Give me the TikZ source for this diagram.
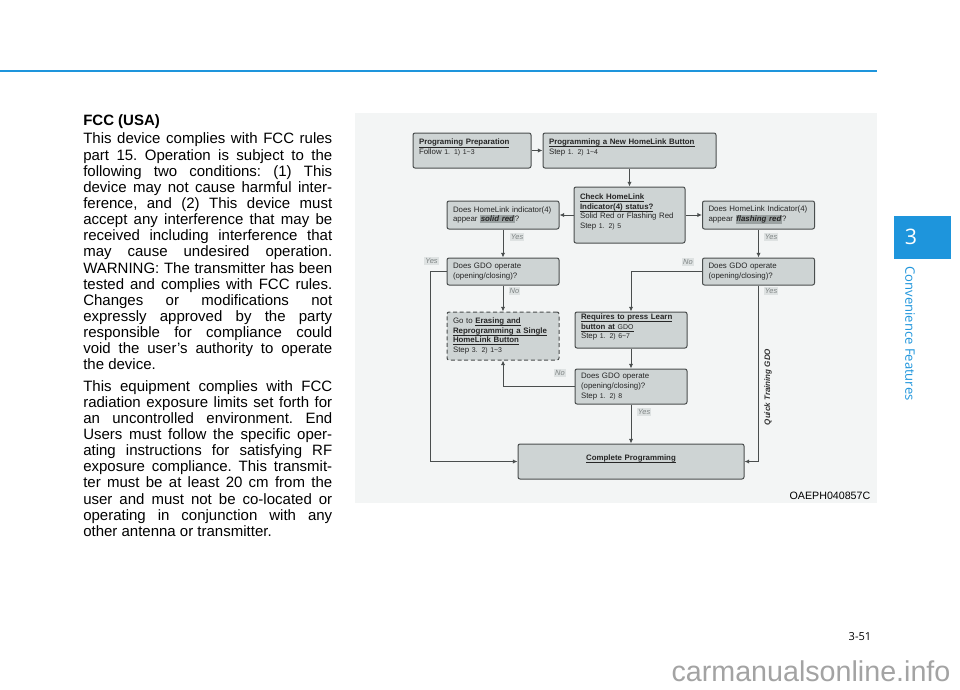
\documentclass[tikz,border=0pt]{standalone}
\usepackage{fontspec}
\setmainfont{Liberation Sans}
\newfontfamily\sidefont{Open Sans}
\usetikzlibrary{arrows.meta}

\definecolor{panelbg}{HTML}{F3F5F5}
\definecolor{boxfill}{HTML}{CED4D4}
\definecolor{boxdraw}{HTML}{4A4E4E}
\definecolor{lblfill}{HTML}{DEE2E2}
\definecolor{lbltext}{HTML}{7E8484}
\definecolor{hlgray}{HTML}{9AA1A1}
\definecolor{brandblue}{HTML}{1E95DC}
\definecolor{wmgray}{HTML}{A3A3A3}

\newcommand{\stepno}[1]{{\fontsize{5.2}{6}\selectfont #1}}
\newcommand{\hilite}[1]{{\setlength{\fboxsep}{0.5pt}\colorbox{hlgray}{\textbf{\textit{#1}}}}}
\newcommand{\ttl}[1]{\underline{\smash{\textbf{#1}}}}

\begin{document}
\begin{tikzpicture}[x=0.75pt,y=-0.75pt,
    flow/.style={draw=boxdraw,fill=boxfill,line width=0.75pt,rounded corners=1.5pt,
      inner xsep=4.5pt,inner ysep=2pt,align=left,text=black!85,
      font=\fontsize{5.9}{7.2}\selectfont},
    conn/.style={draw=boxdraw,line width=0.75pt,-{Latex[length=3.5pt,width=3.2pt]}},
    yn/.style={font=\fontsize{5.6}{6.5}\selectfont\itshape,text=lbltext,fill=lblfill,inner sep=0.7pt}]
  \useasboundingbox (0,0) rectangle (960,689);
  \fill[white] (0,0) rectangle (960,689);

  % page furniture
  \draw[brandblue,line width=1.5pt] (0,71) -- (877,71);
  \fill[brandblue] (894,216) rectangle (951,259);
  \node[text=white,font=\sidefont\fontsize{16}{18}\selectfont] (chap) at (911,237) {3};
  \node[text=brandblue,font=\sidefont\fontsize{9.8}{11}\selectfont,rotate=-90] (chapname) at (910,333.5) {Convenience Features};
  \node[font=\sidefont\fontsize{8.3}{10}\selectfont] (pageno) at (860,637) {3-51};
  \node[text=wmgray,font=\fontsize{21.5}{24}\selectfont] (wmark) at (811,671) {carmanualsonline.info};

  % text column
  \node[anchor=base west,inner sep=0pt,text width=186.75pt,align=justify,
    font=\fontsize{11.25}{12.1}\selectfont] (fcc) at (83,125.4) {\frenchspacing\hbadness=10000\tolerance=10000
    \textbf{FCC (USA)}\par\vspace{1.8pt}
    This device complies with FCC rules\linebreak
    part 15. Operation is subject to the\linebreak
    following two conditions: (1) This\linebreak
    device may not cause harmful inter-\linebreak
    ference, and (2) This device must\linebreak
    accept any interference that may be\linebreak
    received including interference that\linebreak
    may cause undesired operation.\linebreak
    WARNING: The transmitter has been\linebreak
    tested and complies with FCC rules.\linebreak
    Changes or modifications not\linebreak
    expressly approved by the party\linebreak
    responsible for compliance could\linebreak
    void the user’s authority to operate\linebreak
    the device.\par\vspace{3.9pt}
    This equipment complies with FCC\linebreak
    radiation exposure limits set forth for\linebreak
    an uncontrolled environment. End\linebreak
    Users must follow the specific oper-\linebreak
    ating instructions for satisfying RF\linebreak
    exposure compliance. This transmit-\linebreak
    ter must be at least 20 cm from the\linebreak
    user and must not be co-located or\linebreak
    operating in conjunction with any\linebreak
    other antenna or transmitter.};

  % flow chart
  \fill[panelbg] (355,113) rectangle (877,503);
  \node[anchor=east,font=\fontsize{8}{9}\selectfont] (code) at (875,496) {OAEPH040857C};

  \node[flow,text width=79.5pt,minimum height=26.25pt] (prep) at (472,150.5)
    {\ttl{Programing Preparation}\\Follow \stepno{1. 1) 1\textasciitilde3}};
  \node[flow,text width=120.75pt,minimum height=26.25pt] (newbtn) at (629.5,150.5)
    {\ttl{Programming a New HomeLink Button}\\Step \stepno{1. 2) 1\textasciitilde4}};
  \node[flow,text width=74.25pt,minimum height=42pt] (check) at (629.5,215)
    {\ttl{Check HomeLink}\\\ttl{Indicator(4) status?}\\Solid Red or Flashing Red\\Step \stepno{1. 2) 5}};
  \node[flow,text width=75pt,minimum height=21pt] (solid) at (503,215)
    {Does HomeLink indicator(4)\\appear \hilite{solid red}?};
  \node[flow,text width=75pt,minimum height=21pt] (flash) at (758.5,215)
    {Does HomeLink Indicator(4)\\appear \hilite{flashing red}?};
  \node[flow,text width=75pt,minimum height=20.25pt] (gdoa) at (503,271.5)
    {Does GDO operate\\(opening/closing)?};
  \node[flow,text width=75pt,minimum height=20.25pt] (gdob) at (758.5,271.5)
    {Does GDO operate\\(opening/closing)?};
  \node[flow,densely dashed,text width=75pt,minimum height=36pt] (erase) at (503,336)
    {Go to \ttl{Erasing and}\\\ttl{Reprogramming a Single}\\\ttl{HomeLink Button}\\Step \stepno{3. 2) 1\textasciitilde3}};
  \node[flow,text width=75pt,minimum height=27pt] (learn) at (631,330)
    {\ttl{Requires to press Learn}\\\underline{\smash{\textbf{button at} \stepno{GDO}}}\\Step \stepno{1. 2) 6\textasciitilde7}};
  \node[flow,text width=75pt,minimum height=26.25pt] (gdoc) at (631,386.5)
    {Does GDO operate\\(opening/closing)?\\Step \stepno{1. 2) 8}};
  \node[flow,text width=160.5pt,minimum height=26.25pt,align=center] (done) at (631,461.5)
    {\ttl{Complete Programming}};

  \coordinate (yesleft) at (430,271.5);

  \draw[conn] (prep) -- (newbtn);
  \draw[conn] (newbtn) -- (check);
  \draw[conn] (check) -- (solid);
  \draw[conn] (check) -- (flash);
  \draw[conn] (solid) -- (gdoa);
  \draw[conn] (flash) -- (gdob);
  \draw[conn] (gdoa.west) -- (yesleft) |- (done.west);
  \draw[conn] (gdoa) -- (erase);
  \draw[conn] (gdob.west) -| (learn.north);
  \draw[conn] (gdob.south) |- (done.east);
  \draw[conn] (learn) -- (gdoc);
  \draw[conn] (gdoc.west) -| (erase.south);
  \draw[conn] (gdoc) -- (done);

  \node[yn] (y1) at (517,237) {Yes};
  \node[yn] (y2) at (771,237) {Yes};
  \node[yn] (y3) at (431.5,261) {Yes};
  \node[yn] (n1) at (514.5,291) {No};
  \node[yn] (n2) at (688,262) {No};
  \node[yn] (y4) at (771,291) {Yes};
  \node[yn] (n3) at (560,373) {No};
  \node[yn] (y5) at (644,412) {Yes};
  \node[rotate=90,text=black!80,font=\fontsize{6}{7}\selectfont\bfseries\itshape] (quick) at (768,387) {Quick Training GDO};
\end{tikzpicture}
\end{document}
